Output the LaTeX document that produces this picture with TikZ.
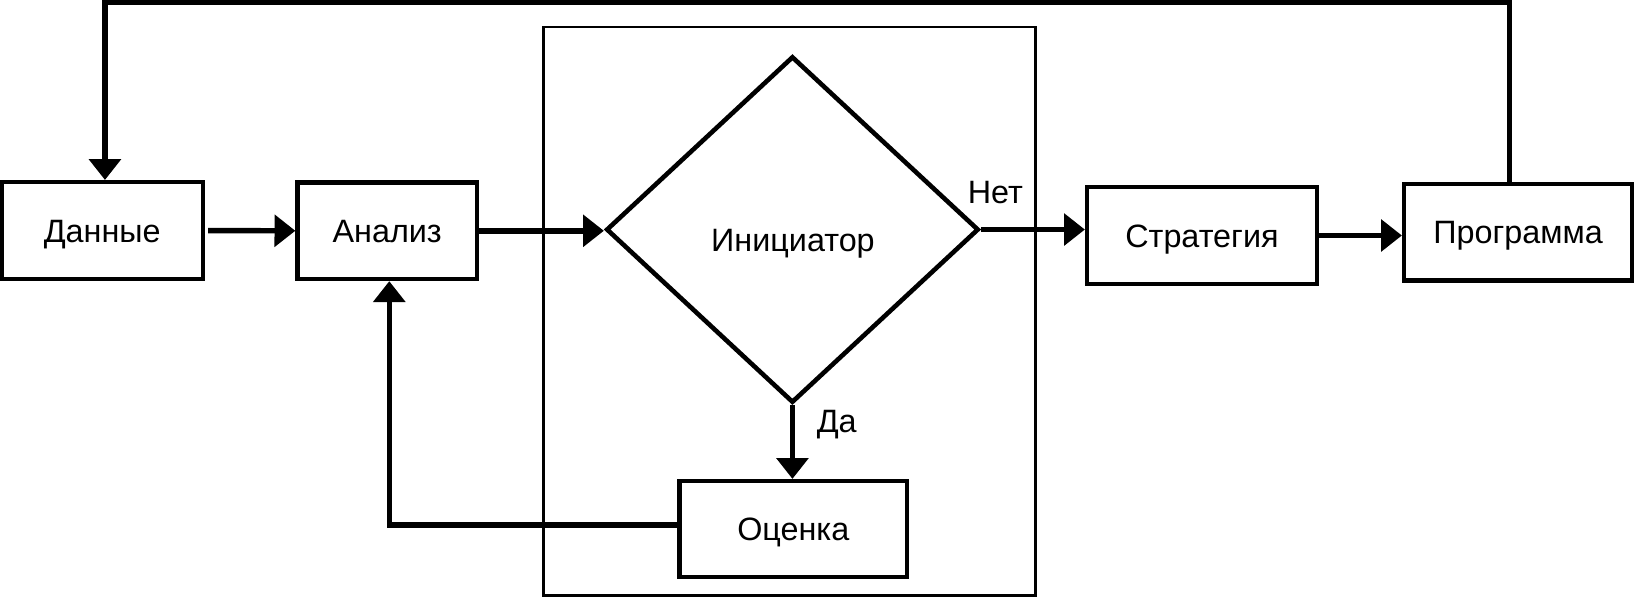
\documentclass[tikz,border=0pt]{standalone}
\usepackage{fontspec}
\setmainfont{Liberation Sans}
\usetikzlibrary{arrows.meta,shapes.geometric,calc}
\begin{document}
\begin{tikzpicture}[x=0.5pt,y=-0.5pt,
  txt/.style={font=\fontsize{15.5}{18}\selectfont,text height=11.1pt,text depth=0pt,inner sep=0pt},
  box/.style={draw,line width=2pt,inner sep=0pt,txt},
  conn/.style={line width=2.6pt,line join=miter,-{Triangle[length=10pt,width=15pt]}}]
\useasboundingbox (0,0) rectangle (1568,578);
\node[draw,line width=1.4pt,minimum width=235.85pt,minimum height=272.4pt,inner sep=0pt] (frame) at (756.5,298.3) {};
\node[box,minimum width=96.5pt,minimum height=46.5pt] (dan) at (98,221) {Данные};
\node[box,minimum width=86pt,minimum height=46.25pt] (an) at (371.1,221.2) {Анализ};
\node[box,minimum width=110.2pt,minimum height=46.5pt] (str) at (1152,225.7) {Стратегия};
\node[box,minimum width=109.25pt,minimum height=46.25pt] (prog) at (1454.9,222.6) {Программа};
\node[box,minimum width=109pt,minimum height=46pt] (och) at (760.3,507) {Оценка};
\node[draw,diamond,line width=2.2pt,minimum width=178.5pt,minimum height=166pt,inner sep=0pt] (ini) at (759.5,220) {};
\node[txt] (initxt) at (760,230) {Инициатор};
\node[txt] (net) at (954,184) {Нет};
\node[txt] (da) at (802,403.5) {Да};
\coordinate (fbR) at (1446.7,2.4);
\coordinate (fbL) at (100.6,2.4);
\draw[conn] ([xshift=1.5pt]dan.east) -- (an.west);
\draw[conn] (an.east) -- (an.east -| ini.west);
\draw[conn] (ini.east) -- (ini.east -| str.west);
\draw[conn] (str.east) -- (str.east -| prog.west);
\draw[conn] (ini.south) -- (ini.south |- och.north);
\draw[conn] ([yshift=2pt]och.west) -| ([xshift=1pt]an.south);
\draw[conn] (prog.north -| fbR) -- (fbR) -- (fbL) -- (fbL |- dan.north);
\end{tikzpicture}
\end{document}
